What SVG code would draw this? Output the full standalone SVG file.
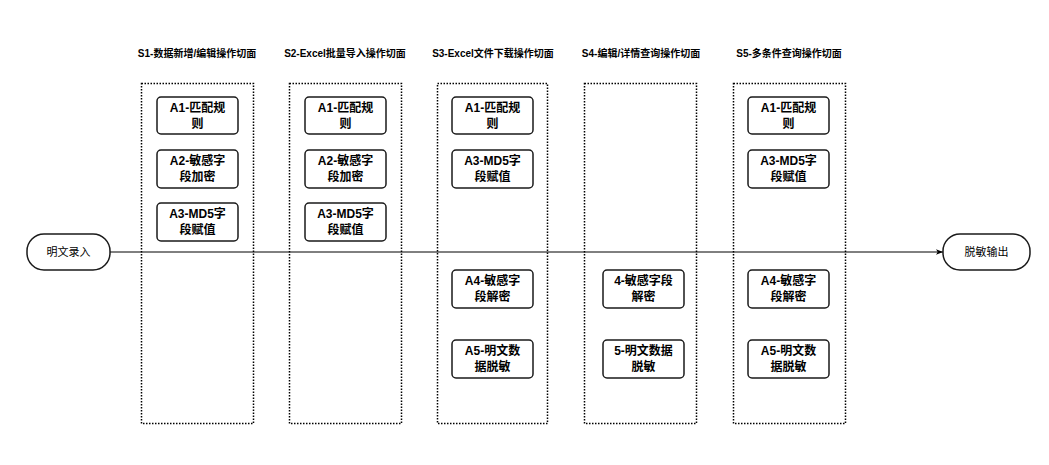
<svg xmlns="http://www.w3.org/2000/svg" width="1049" height="465" viewBox="0 0 1049 465">
<defs>
<style>
.lane{fill:none;stroke:#000;stroke-width:1.5;stroke-dasharray:1.5 1.5}
.box{fill:#fff;stroke:#1a1a1a;stroke-width:1.5}
.t{font-family:"Liberation Sans","Noto Sans CJK SC",sans-serif;font-weight:bold;font-size:12px;fill:#000;text-anchor:middle}
.h{font-family:"Liberation Sans","Noto Sans CJK SC",sans-serif;font-weight:bold;font-size:10px;fill:#000;text-anchor:middle}
.n{font-family:"Liberation Sans","Noto Sans CJK SC",sans-serif;font-size:11px;fill:#000;text-anchor:middle}
.edge{fill:none;stroke:#000;stroke-width:1}
</style>
<marker id="arr" viewBox="0 0 10 10" refX="10" refY="5" markerWidth="7" markerHeight="7" orient="auto" markerUnits="userSpaceOnUse">
<path d="M0,1 L10,5 L0,9 L2.5,5 Z" fill="#000"/>
</marker>
</defs>
<rect width="1049" height="465" fill="#fff"/>
<g id="lanes">
<g id="S1"><rect class="lane" x="141.5" y="83.5" width="112" height="340"/><text class="h" x="197" y="57">S1-数据新增/编辑操作切面</text></g>
<g id="S2"><rect class="lane" x="289.5" y="83.5" width="112" height="340"/><text class="h" x="345" y="57">S2-Excel批量导入操作切面</text></g>
<g id="S3"><rect class="lane" x="437.5" y="83.5" width="110" height="340"/><text class="h" x="493" y="57">S3-Excel文件下载操作切面</text></g>
<g id="S4"><rect class="lane" x="584.5" y="83.5" width="112" height="340"/><text class="h" x="641" y="57">S4-编辑/详情查询操作切面</text></g>
<g id="S5"><rect class="lane" x="733.5" y="83.5" width="112" height="340"/><text class="h" x="789" y="57">S5-多条件查询操作切面</text></g>
</g>
<g id="connectors">
<path class="edge" d="M110,252 L943,252" marker-end="url(#arr)"/>
</g>
<g id="start"><rect class="box" x="27" y="234" width="83" height="36" rx="17"/><text class="n" x="68.5" y="256">明文录入</text></g>
<g id="end"><rect class="box" x="943" y="234" width="87" height="36" rx="17"/><text class="n" x="986.5" y="256">脱敏输出</text></g>
<g id="S1-A1"><rect class="box" x="157" y="97" width="81" height="37" rx="4"/><text class="t" x="197.5" y="112">A1-匹配规</text><text class="t" x="197.5" y="128">则</text></g>
<g id="S1-A2"><rect class="box" x="157" y="150" width="81" height="38" rx="4"/><text class="t" x="197.5" y="165">A2-敏感字</text><text class="t" x="197.5" y="181">段加密</text></g>
<g id="S1-A3"><rect class="box" x="157" y="203" width="81" height="38" rx="4"/><text class="t" x="197.5" y="218">A3-MD5字</text><text class="t" x="197.5" y="234">段赋值</text></g>
<g id="S2-A1"><rect class="box" x="305" y="97" width="81" height="37" rx="4"/><text class="t" x="345.5" y="112">A1-匹配规</text><text class="t" x="345.5" y="128">则</text></g>
<g id="S2-A2"><rect class="box" x="305" y="150" width="81" height="38" rx="4"/><text class="t" x="345.5" y="165">A2-敏感字</text><text class="t" x="345.5" y="181">段加密</text></g>
<g id="S2-A3"><rect class="box" x="305" y="203" width="81" height="38" rx="4"/><text class="t" x="345.5" y="218">A3-MD5字</text><text class="t" x="345.5" y="234">段赋值</text></g>
<g id="S3-A1"><rect class="box" x="452" y="97" width="81" height="37" rx="4"/><text class="t" x="492.5" y="112">A1-匹配规</text><text class="t" x="492.5" y="128">则</text></g>
<g id="S3-A3"><rect class="box" x="452" y="150" width="81" height="38" rx="4"/><text class="t" x="492.5" y="165">A3-MD5字</text><text class="t" x="492.5" y="181">段赋值</text></g>
<g id="S3-A4"><rect class="box" x="452" y="270" width="81" height="38" rx="4"/><text class="t" x="492.5" y="285">A4-敏感字</text><text class="t" x="492.5" y="301">段解密</text></g>
<g id="S3-A5"><rect class="box" x="452" y="340" width="81" height="38" rx="4"/><text class="t" x="492.5" y="355">A5-明文数</text><text class="t" x="492.5" y="371">据脱敏</text></g>
<g id="S4-4"><rect class="box" x="603" y="270" width="81" height="38" rx="4"/><text class="t" x="643.5" y="285">4-敏感字段</text><text class="t" x="643.5" y="301">解密</text></g>
<g id="S4-5"><rect class="box" x="603" y="340" width="81" height="38" rx="4"/><text class="t" x="643.5" y="355">5-明文数据</text><text class="t" x="643.5" y="371">脱敏</text></g>
<g id="S5-A1"><rect class="box" x="748" y="97" width="81" height="37" rx="4"/><text class="t" x="788.5" y="112">A1-匹配规</text><text class="t" x="788.5" y="128">则</text></g>
<g id="S5-A3"><rect class="box" x="748" y="150" width="81" height="38" rx="4"/><text class="t" x="788.5" y="165">A3-MD5字</text><text class="t" x="788.5" y="181">段赋值</text></g>
<g id="S5-A4"><rect class="box" x="748" y="270" width="81" height="38" rx="4"/><text class="t" x="788.5" y="285">A4-敏感字</text><text class="t" x="788.5" y="301">段解密</text></g>
<g id="S5-A5"><rect class="box" x="748" y="340" width="81" height="38" rx="4"/><text class="t" x="788.5" y="355">A5-明文数</text><text class="t" x="788.5" y="371">据脱敏</text></g>
</svg>
